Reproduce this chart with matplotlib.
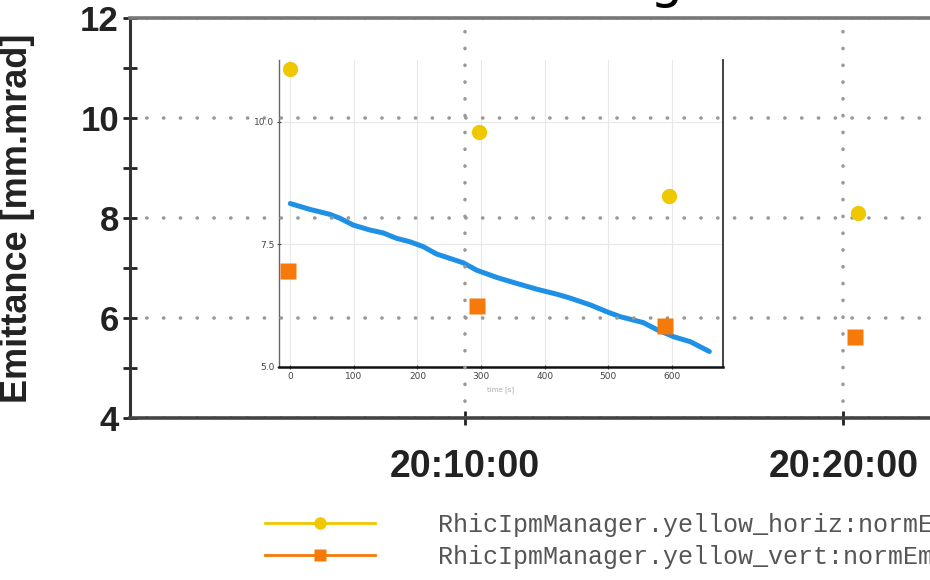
import datetime as dt
import matplotlib
matplotlib.use('Agg')
import matplotlib.pyplot as plt
import matplotlib.dates as mdates
from matplotlib.lines import Line2D

# IPM emittance samples (yellow ring)
horiz_times = ['20:05:23', '20:10:23', '20:15:23', '20:20:23']
horiz_emit = [10.99, 9.73, 8.45, 8.11]
vert_times = ['20:05:19', '20:10:19', '20:15:18', '20:20:18']
vert_emit = [6.95, 6.25, 5.84, 5.63]

# inset trace: emittance vs seconds
inset_t = [0, 31, 62, 78, 99, 125, 146, 167, 188, 209, 230, 251, 272, 293,
           325, 356, 388, 419, 440, 472, 498, 519, 534, 555, 576, 603, 629, 659]
inset_v = [8.33, 8.21, 8.11, 8.03, 7.89, 7.79, 7.73, 7.62, 7.55, 7.45, 7.30,
           7.21, 7.12, 6.97, 6.82, 6.70, 6.58, 6.48, 6.40, 6.26, 6.12, 6.02,
           5.97, 5.90, 5.76, 5.61, 5.51, 5.31]

labels = ['RhicIpmManager.yellow_horiz:normEmittanceH',
          'RhicIpmManager.yellow_vert:normEmittanceV']

YELLOW = '#f0c800'
ORANGE = '#f57a0a'
BLUE = '#1e90e6'


def hms(s):
    return dt.datetime.strptime('2016-02-26 ' + s, '%Y-%m-%d %H:%M:%S')


fig = plt.figure(figsize=(9.3, 5.8), dpi=100)

# inset first, main axes on top with transparent background
axi = fig.add_axes([0.3003, 0.3678, 0.4768, 0.5288], zorder=1)
axi.patch.set_alpha(0)
axi.plot(inset_t, inset_v, color=BLUE, lw=3.6, solid_capstyle='round')
axi.set_xlim(-17.3, 680)
axi.set_ylim(5.0, 11.26)
axi.set_xticks(range(0, 700, 100))
axi.set_yticks([5.0, 7.5, 10.0])
axi.set_yticklabels(['5.0', '7.5', '10.0'])
axi.grid(True, color='#e8e8e8', lw=0.8)
axi.tick_params(labelsize=6.5, colors='#444444', length=3, width=0.8, pad=2,
                direction='inout')
axi.spines['top'].set_visible(False)
axi.spines['left'].set_color('#666666')
axi.spines['left'].set_linewidth(1.0)
axi.spines['right'].set_color('#333333')
axi.spines['right'].set_linewidth(1.3)
axi.spines['bottom'].set_color('#111111')
axi.spines['bottom'].set_linewidth(1.8)
axi.set_xlabel('time [s]', fontsize=5, color='#aaaaaa', labelpad=4)

ax = fig.add_axes([0.1398, 0.2788, 0.87, 0.6897], zorder=2)
ax.patch.set_alpha(0)
ax.plot([hms(t) for t in horiz_times], horiz_emit, 'o', color=YELLOW,
        ms=11, mec='none')
ax.plot([hms(t) for t in vert_times], vert_emit, 's', color=ORANGE,
        ms=11, mec='none')

ax.set_ylim(4, 12)
ax.set_xlim(hms('20:01:09'), hms('20:22:32'))
ax.set_yticks([4, 6, 8, 10, 12])
ax.set_yticks([5, 7, 9, 11], minor=True)
ax.xaxis.set_major_locator(mdates.MinuteLocator(byminute=range(0, 60, 10)))
ax.xaxis.set_major_formatter(mdates.DateFormatter('%H:%M:%S'))
ax.grid(True, which='major', color='#999999', lw=2.6,
        linestyle=(0, (0.05, 4.6)), dash_capstyle='round')

for lab in ax.get_xticklabels() + ax.get_yticklabels():
    lab.set_fontweight('bold')
    lab.set_family('Liberation Sans')
ax.tick_params(axis='y', which='both', direction='inout', length=10, width=2,
               labelsize=25, pad=3, colors='#222222')
ax.tick_params(axis='x', direction='inout', length=10, width=2,
               labelsize=27, pad=17, colors='#222222')
ax.set_ylabel('Emittance [mm.mrad]', fontsize=26, fontweight='bold',
              family='Liberation Sans', color='#222222')
ax.yaxis.set_label_coords(-0.118, 0.5)

ax.spines['right'].set_visible(False)
ax.spines['left'].set_linewidth(2.2)
ax.spines['left'].set_color('#333333')
ax.spines['bottom'].set_linewidth(2.6)
ax.spines['bottom'].set_color('#444444')
ax.spines['top'].set_linewidth(2.6)
ax.spines['top'].set_color('#777777')

# title sits mostly above the canvas
fig.text(666 / 930, 1 + 3 / 580, 'g', ha='center', va='baseline',
         fontsize=38, color='black')

handles = [Line2D([], [], color=YELLOW, lw=2, marker='o', ms=9, mec='none'),
           Line2D([], [], color=ORANGE, lw=2, marker='s', ms=9, mec='none')]
fig.legend(handles, labels, loc='upper left',
           bbox_to_anchor=(265 / 930, 1 - 513 / 580), frameon=False,
           prop={'family': 'Liberation Mono', 'size': 18},
           labelcolor='#555555', handlelength=4.4, handletextpad=2.5,
           labelspacing=0.32, borderpad=0, borderaxespad=0)

fig.savefig('out.png', dpi=100)
